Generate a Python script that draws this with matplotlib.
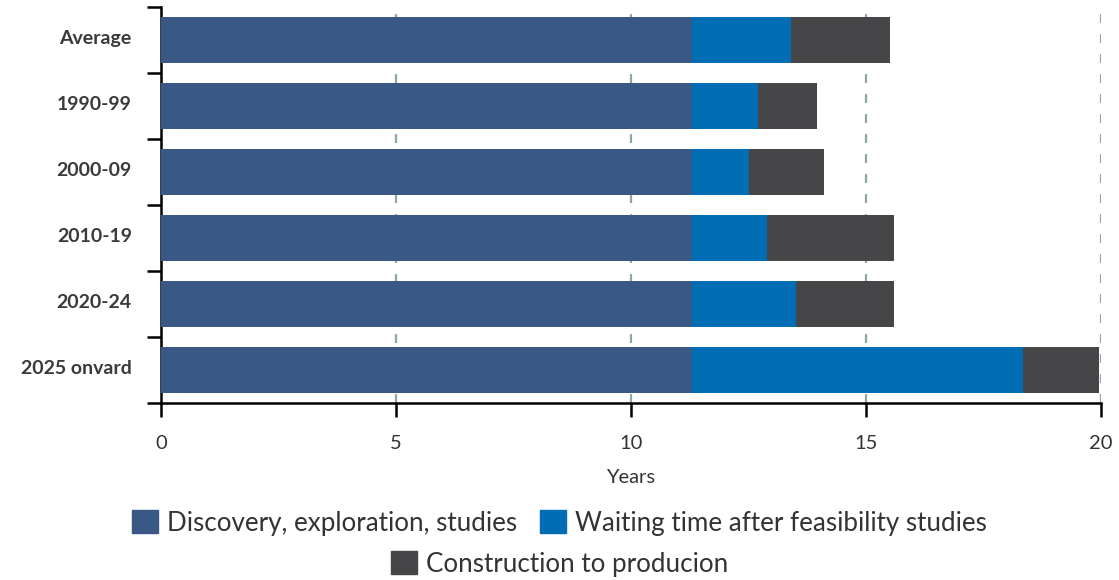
import matplotlib
matplotlib.use("Agg")
import matplotlib.pyplot as plt
from matplotlib.patches import Patch
import matplotlib.transforms as mtransforms
import numpy as np

categories = ["Average", "1990-99", "2000-09", "2010-19", "2020-24", "2025 onvard"]
discovery = [11.3, 11.3, 11.3, 11.3, 11.3, 11.3]
waiting = [2.1, 1.4, 1.2, 1.6, 2.2, 7.05]
construction = [2.1, 1.25, 1.6, 2.7, 2.1, 1.6]
series_names = ["Discovery, exploration, studies", "Waiting time after feasibility studies",
                "Construction to producion"]
colors = ["#395886", "#006db5", "#464648"]
xticks = [0, 5, 10, 15, 20]

plt.rcParams['font.family'] = ['Lato', 'DejaVu Sans']

fig = plt.figure(figsize=(11.19, 5.8), dpi=100)
ax = fig.add_axes([161/1119, (580-403)/580, (1101-161)/1119, (403-7)/580])

y = np.arange(len(categories))
d = np.array(discovery)
w = np.array(waiting)
c = np.array(construction)
h = 0.69
ax.barh(y, d, height=h, color=colors[0], zorder=3)
ax.barh(y, w, left=d, height=h, color=colors[1], zorder=3)
ax.barh(y, c, left=d + w, height=h, color=colors[2], zorder=3)

ax.set_xlim(0, 20)
ax.set_ylim(len(categories) - 0.5, -0.5)
ax.set_xticks(xticks)
ax.set_xticklabels([str(t) for t in xticks], fontsize=14.5, color="#333333")
ax.set_xlabel("Years", fontsize=14.5, color="#333333", labelpad=12)

ax.set_yticks(y)
ax.set_yticklabels(categories, fontsize=14, fontweight="bold", color="#3a3a3a")
ax.tick_params(axis="y", which="major", length=0, pad=21)
ax.set_yticks(np.arange(-0.5, len(categories) + 0.5, 1), minor=True)
ax.tick_params(axis="y", which="minor", length=10, width=1.8, color="black")
ax.tick_params(axis="x", which="major", length=10, width=1.8, color="black", pad=13)

offset = mtransforms.ScaledTranslation(0, 3/100, fig.dpi_scale_trans)
for lab in ax.get_yticklabels():
    lab.set_transform(lab.get_transform() + offset)

for t in xticks[1:]:
    ax.axvline(t, color="#8fa5a8", linestyle=(0, (4, 5)), linewidth=1.6, zorder=1)

for s in ["top", "right"]:
    ax.spines[s].set_visible(False)
ax.spines["left"].set_linewidth(1.8)
ax.spines["bottom"].set_linewidth(1.8)

handles = [Patch(color=col) for col in colors]
leg1 = fig.legend(handles[:2], series_names[:2], ncol=2, loc="center",
                  bbox_to_anchor=(0.5, 1 - 523/580), frameon=False, fontsize=18.7,
                  handlelength=1.0, handleheight=1.0, handletextpad=0.35, columnspacing=0.9,
                  labelcolor="#333333")
leg2 = fig.legend(handles[2:], series_names[2:], ncol=1, loc="center",
                  bbox_to_anchor=(0.5, 1 - 564/580), frameon=False, fontsize=18.7,
                  handlelength=1.0, handleheight=1.0, handletextpad=0.35,
                  labelcolor="#333333")

fig.savefig("out.png", dpi=100)
